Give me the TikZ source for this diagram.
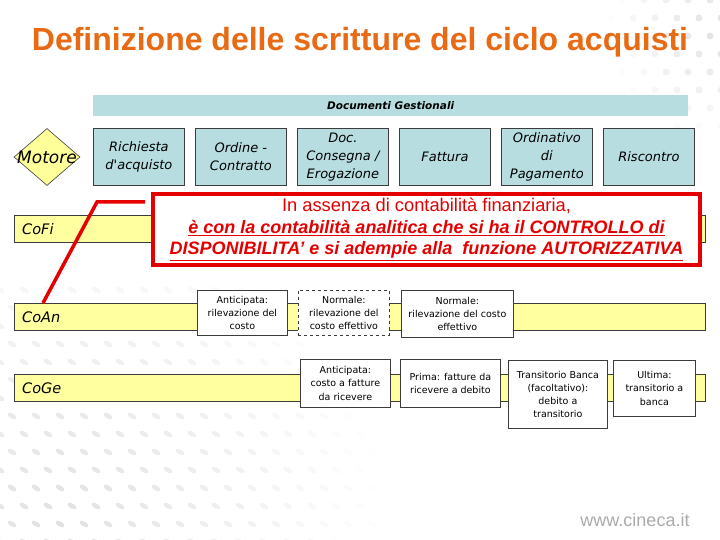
\documentclass[tikz,border=0pt]{standalone}
\usepackage{fontspec}
\setmainfont{Liberation Sans}
\newfontfamily\tah{DejaVu Sans}
\usetikzlibrary{shapes.geometric}
\definecolor{titleor}{RGB}{232,106,20}
\definecolor{docblue}{RGB}{183,221,224}
\definecolor{baryel}{RGB}{255,255,160}
\definecolor{motyel}{RGB}{255,255,153}
\definecolor{redc}{RGB}{228,0,0}
\definecolor{edgec}{RGB}{60,60,60}
\definecolor{webgray}{RGB}{170,170,170}
\definecolor{dotgray}{RGB}{225,225,225}
\begin{document}
\begin{tikzpicture}[x=1pt,y=-1pt,
  docbox/.style={draw=edgec,fill=docblue,line width=0.8pt,minimum width=91pt,minimum height=57pt,inner sep=1pt,align=center,anchor=north west,font=\tah\itshape\fontsize{13}{18}\selectfont},
  bar/.style={draw=edgec,fill=baryel,line width=0.8pt,minimum width=691pt,minimum height=27pt,anchor=north west,inner sep=0pt},
  barlabel/.style={anchor=west,inner sep=0pt,font=\tah\itshape\fontsize{14.5}{16}\selectfont},
  stepnote/.style={draw=edgec,fill=white,line width=0.8pt,align=center,inner sep=1pt,anchor=north west,font=\tah\fontsize{9.5}{13.2}\selectfont},
  redline/.style={draw=redc,line width=3.5pt}
]
\useasboundingbox (0,0) rectangle (720,540);

% faint background dots (bottom left and top right)
\foreach \i in {0,...,16}{
  \foreach \j in {0,...,14}{
    \pgfmathsetmacro{\px}{\i*24+mod(\j,2)*12}
    \pgfmathsetmacro{\py}{290+\j*18}
    \pgfmathsetmacro{\op}{max(0,min(1,1-veclen(\px-60,\py-520)/330))}
    \fill[dotgray,opacity=\op,rotate around={-30:(\px,\py)}] (\px,\py) ellipse (5pt and 2.5pt);
  }
}
\foreach \i in {0,...,5}{
  \foreach \j in {0,...,7}{
    \pgfmathsetmacro{\px}{600+\i*22+mod(\j,2)*11}
    \pgfmathsetmacro{\py}{\j*18}
    \pgfmathsetmacro{\op}{max(0,min(1,1-veclen(\px-720,\py-30)/120))}
    \fill[dotgray,opacity=\op] (\px,\py) circle (3.5pt);
  }
}

% title
\node[text=titleor,font=\bfseries\fontsize{32}{35}\selectfont] (title) at (360,42) {Definizione delle scritture del ciclo acquisti};

% documenti gestionali bar
\node[fill=docblue,anchor=north west,minimum width=595pt,minimum height=21pt,inner sep=0pt,font=\tah\bfseries\itshape\fontsize{10.5}{12}\selectfont] (docbar) at (93,95) {Documenti Gestionali};

% motore
\node[diamond,draw=edgec,fill=motyel,minimum width=66pt,minimum height=57pt,inner sep=0pt,line width=0.6pt] (motore) at (47,157) {};
\node[font=\tah\itshape\fontsize{17}{19}\selectfont,inner sep=0pt] (motoretxt) at (motore) {Motore};

% documents
\node[docbox] (d1) at (93,128) {Richiesta\\d'acquisto};
\node[docbox] (d2) at (195,128) {Ordine -\\Contratto};
\node[docbox] (d3) at (297,128) {Doc.\\Consegna /\\Erogazione};
\node[docbox] (d4) at (399,128) {Fattura};
\node[docbox] (d5) at (501,128) {Ordinativo\\di\\Pagamento};
\node[docbox] (d6) at (603,128) {Riscontro};

% bars
\node[bar] (cofi) at (14,215) {};
\node[barlabel] (cofitxt) at ([xshift=8pt]cofi.west) {CoFi};
\node[bar] (coan) at (14,303) {};
\node[barlabel] (coantxt) at ([xshift=8pt]coan.west) {CoAn};
\node[bar] (coge) at (14,374) {};
\node[barlabel] (cogetxt) at ([xshift=8pt]coge.west) {CoGe};

% CoAn steps
\node[stepnote,minimum width=90pt,minimum height=45pt] (an1) at (197,290) {Anticipata:\\rilevazione del\\costo};
\node[stepnote,dashed,minimum width=91pt,minimum height=45pt] (an2) at (298,290) {Normale:\\rilevazione del\\costo effettivo};
\node[stepnote,minimum width=112pt,minimum height=47pt] (an3) at (401,290) {Normale:\\rilevazione del costo\\effettivo};

% CoGe steps
\node[stepnote,minimum width=90pt,minimum height=48pt] (ge1) at (300,359) {Anticipata:\\costo a fatture\\da ricevere};
\node[stepnote,minimum width=100pt,minimum height=48pt] (ge2) at (400,359) {Prima: fatture da\\ricevere a debito};
\node[stepnote,minimum width=99pt,minimum height=68pt] (ge3) at (508,360) {Transitorio Banca\\(facoltativo):\\debito a\\transitorio};
\node[stepnote,minimum width=82pt,minimum height=56pt] (ge4) at (613,360) {Ultima:\\transitorio a\\banca};

% red note
\node[draw=redc,line width=4pt,fill=white,minimum width=547pt,minimum height=71pt,inner sep=0pt,align=center,text=redc,font=\fontsize{18}{21.5}\selectfont] (nota) at (426.5,229.5)
 {{\fontsize{18.3}{21.5}\selectfont In assenza di contabilità finanziaria,}\\
  {\bfseries\itshape\underline{è con la contabilità analitica che si ha il CONTROLLO di}}\\
  {\bfseries\itshape\underline{DISPONIBILITA’ e si adempie alla\ \ funzione AUTORIZZATIVA}}};

% red connector
\coordinate (bend) at (97,202);
\draw[redline] ([xshift=-6pt,yshift=-10pt]nota.north west) -- (bend) -- ([xshift=29pt]coan.north west);

% web address
\node[text=webgray,font=\fontsize{18}{20}\selectfont] (web) at (635,520) {www.cineca.it};
\end{tikzpicture}
\end{document}
